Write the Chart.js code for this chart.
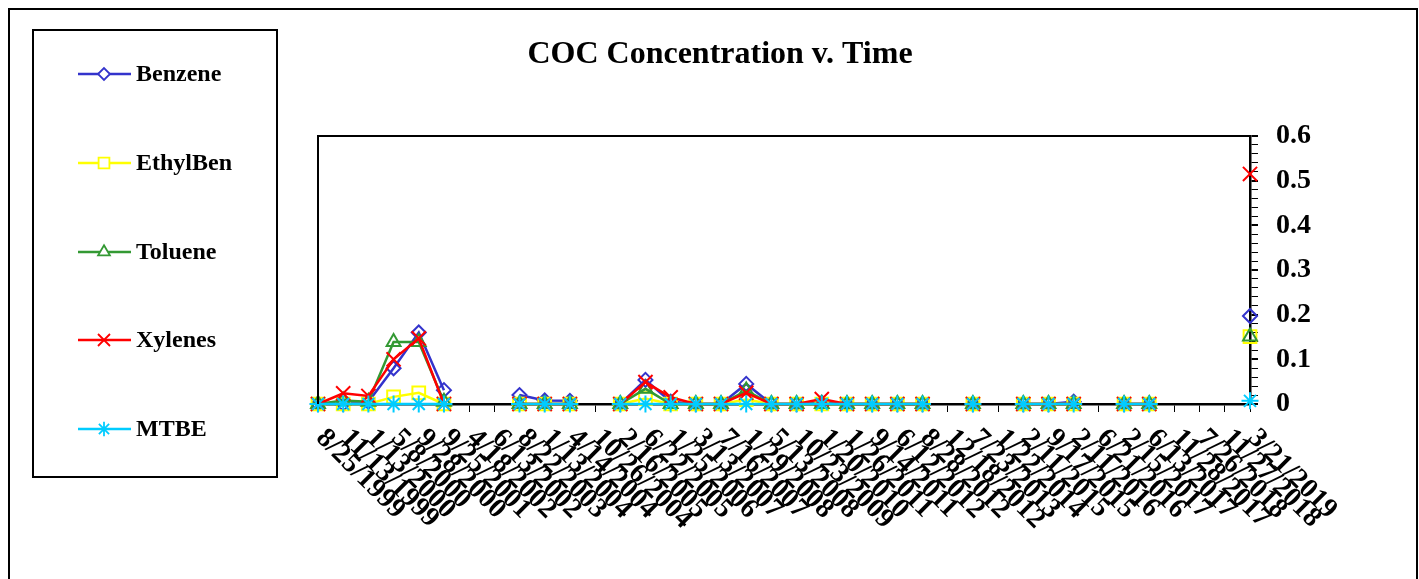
<!DOCTYPE html>
<html>
<head>
<meta charset="utf-8">
<script src="https://cdn.jsdelivr.net/npm/chart.js@4/dist/chart.umd.min.js"></script>
<style>
  body { margin: 0; background: #fff; }
  #wrap { width: 1419px; height: 579px; position: relative; }
</style>
</head>
<body>
<div id="wrap"><canvas id="coc_chart"></canvas></div>
<script>
const dates = [
    '8/25/1999', '11/13/1999', '1/13/2000', '5/8/2000', '9/28/2000', '9/25/2001',
    '4/18/2002', '6/13/2002', '8/22/2003', '1/13/2004', '4/14/2004', '10/26/2004',
    '2/16/2005', '6/22/2005', '1/25/2006', '3/13/2007', '7/16/2007', '1/29/2008',
    '5/13/2008', '10/23/2009', '1/20/2010', '1/26/2011', '9/14/2011', '6/12/2012',
    '8/28/2012', '12/18/2012', '7/23/2013', '1/22/2014', '2/11/2015', '9/17/2015',
    '2/11/2016', '6/21/2016', '2/15/2017', '6/13/2017', '11/28/2017', '7/26/2018',
    '11/27/2018', '3/21/2019'
];

const benzene = [0, 0, 0.005, 0.08, 0.16, 0.031, null, null, 0.02, 0.008, 0.007, null,
    0, 0.054, 0.005, 0, 0, 0.045, 0, 0, 0.003, 0, 0, 0, 0, null, 0, null, 0, 0, 0.005,
    null, 0, 0, null, null, null, 0.197];
const ethylben = [0, 0, 0, 0.016, 0.025, 0, null, null, 0, 0, 0, null,
    0, 0.012, 0, 0, 0, 0.01, 0, 0, 0, 0, 0, 0, 0, null, 0, null, 0, 0, 0,
    null, 0, 0, null, null, null, 0.151];
const toluene = [0, 0.008, 0.005, 0.139, 0.139, 0.005, null, null, 0, 0, 0, null,
    0, 0.034, 0, 0, 0, 0.03, 0, 0, 0, 0, 0, 0, 0, null, 0, null, 0, 0, 0,
    null, 0, 0, null, null, null, 0.151];
const xylenes = [0, 0.024, 0.018, 0.1, 0.147, 0, null, null, 0, 0, 0, null,
    0, 0.049, 0.015, 0, 0, 0.025, 0, 0, 0.011, 0, 0, 0, 0, null, 0, null, 0, 0, 0,
    null, 0, 0, null, null, null, 0.515];
const mtbe = [0, 0, 0, 0, 0, 0, null, null, 0, 0, 0, null,
    0, 0, 0, 0, 0, 0, 0, 0, 0, 0, 0, 0, 0, null, 0, null, 0, 0, 0,
    null, 0, 0, null, null, null, 0.007];

const FONT = "'Liberation Serif', 'Times New Roman', serif";

function series(label, data, color, style, radius, order) {
    return {
        label: label,
        data: data,
        borderColor: color,
        backgroundColor: color,
        borderWidth: 2.5,
        pointStyle: style,
        pointRadius: radius,
        pointBorderColor: color,
        pointBackgroundColor: 'rgba(0,0,0,0)',
        pointBorderWidth: 2,
        tension: 0,
        spanGaps: false,
        clip: false,
        order: order,
    };
}

// frame, title, legend box and slanted date labels
const decorations = {
    id: 'decorations',
    afterDraw(chart) {
        const ctx = chart.ctx;
        const area = chart.chartArea;
        const xs = chart.scales.x;
        ctx.save();

        ctx.strokeStyle = '#000';
        ctx.lineWidth = 2;
        ctx.strokeRect(9, 9, 1408, 620);

        // plot area frame
        ctx.beginPath();
        ctx.moveTo(area.left, area.bottom);
        ctx.lineTo(area.left, area.top);
        ctx.lineTo(area.right, area.top);
        ctx.stroke();

        ctx.fillStyle = '#000';
        ctx.font = 'bold 32px ' + FONT;
        ctx.textAlign = 'center';
        ctx.textBaseline = 'middle';
        ctx.fillText('COC Concentration v. Time', 720, 55);

        // legend
        ctx.lineWidth = 2;
        ctx.strokeRect(33, 30, 244, 447);
        const rows = [74, 163, 252, 340, 429];
        chart.data.datasets.forEach((ds, i) => {
            const y = rows[i];
            ctx.strokeStyle = ds.borderColor;
            ctx.lineWidth = 2.5;
            ctx.beginPath();
            ctx.moveTo(78, y);
            ctx.lineTo(131, y);
            ctx.stroke();
            ctx.fillStyle = '#fff';
            ctx.lineWidth = 1.8;
            Chart.helpers.drawPoint(ctx, {pointStyle: ds.pointStyle, radius: ds.pointRadius * 0.85, borderWidth: 1.8, rotation: 0}, 104, y);
            ctx.fillStyle = '#000';
            ctx.font = 'bold 24px ' + FONT;
            ctx.textAlign = 'left';
            ctx.textBaseline = 'middle';
            ctx.fillText(ds.label, 136, y + 1);
        });

        // date labels going down to the right
        ctx.fillStyle = '#000';
        ctx.font = 'bold 28px ' + FONT;
        ctx.textAlign = 'left';
        ctx.textBaseline = 'middle';
        chart.data.labels.forEach((lab, i) => {
            const x = xs.getPixelForTick(i);
            ctx.save();
            ctx.translate(x + 2, area.bottom + 30);
            ctx.rotate(Math.PI / 4);
            ctx.fillText(lab, 0, 0);
            ctx.restore();
        });
        ctx.restore();
    }
};

new Chart(document.getElementById('coc_chart').getContext('2d'), {
    type: 'line',
    data: {
        labels: dates,
        datasets: [
            series('Benzene', benzene, '#3333CC', 'rectRot', 7, 5),
            series('EthylBen', ethylben, '#FFFF00', 'rect', 9, 4),
            series('Toluene', toluene, '#339933', 'triangle', 8, 3),
            series('Xylenes', xylenes, '#FF0000', 'crossRot', 10, 2),
            series('MTBE', mtbe, '#00CCFF', 'star', 8.5, 1),
        ]
    },
    options: {
        responsive: true,
        maintainAspectRatio: false,
        animation: false,
        events: [],
        layout: {
            padding: {left: 318, top: 136, right: 90, bottom: 167}
        },
        scales: {
            x: {
                type: 'category',
                offset: false,
                border: {display: true, color: '#000', width: 2.5},
                grid: {display: true, drawOnChartArea: false, drawTicks: true, tickLength: 8, color: '#000', lineWidth: 1},
                ticks: {display: false, autoSkip: false}
            },
            y: {
                position: 'right',
                min: 0,
                max: 0.6,
                border: {display: true, color: '#000', width: 2.5},
                grid: {
                    display: true, drawOnChartArea: false, drawTicks: true, tickLength: 8, color: '#000',
                    lineWidth: (c) => (c.tick && Math.abs(c.tick.value * 10 - Math.round(c.tick.value * 10)) < 1e-6) ? 2 : 1
                },
                ticks: {
                    stepSize: 0.02,
                    autoSkip: false,
                    padding: 18,
                    color: '#000',
                    font: {family: FONT, size: 28, weight: 'bold'},
                    callback: function(v) {
                        if (Math.abs(v * 10 - Math.round(v * 10)) > 1e-6) return '';
                        const r = Math.round(v * 10) / 10;
                        return r === 0 ? '0' : r.toFixed(1);
                    }
                }
            }
        },
        plugins: {
            legend: {display: false},
            title: {display: false},
            tooltip: {enabled: false}
        }
    },
    plugins: [decorations]
});
</script>
</body>
</html>
